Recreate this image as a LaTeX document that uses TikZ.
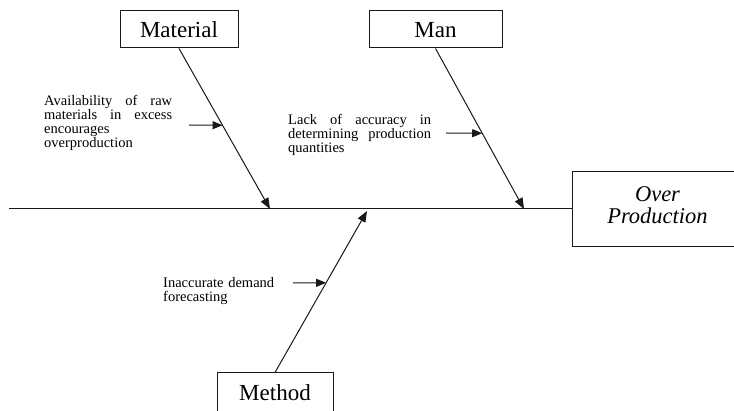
\documentclass[tikz,border=0pt]{standalone}
\usepackage{fontspec}
\setmainfont{Liberation Serif}
\usetikzlibrary{arrows.meta,calc}
% one line of a justified paragraph, spread to the given width
\newcommand\spreadline[2]{\leavevmode\hbox to #1{#2}}

\begin{document}
\begin{tikzpicture}[x=1pt,y=-1pt,
  ink/.style={draw=black!90, line width=1pt},
  titlebox/.style={ink, fill=white, inner sep=0pt,
    font=\fontsize{23}{25}\selectfont, text height=15.5pt, text depth=0pt},
  note/.style={inner sep=0pt, anchor=north west, align=left,
    font=\fontsize{14.5}{14}\selectfont},
  bone/.style={ink, -{Triangle[length=11pt,width=8.5pt]}},
  cue/.style={ink, -{Triangle[length=10pt,width=8pt]}},
]
\useasboundingbox (0,0) rectangle (734,411);

% cause categories and the effect
\node[titlebox, minimum width=118pt, minimum height=37pt] (mat) at (179,29.5) {Material};
\node[titlebox, minimum width=133pt, minimum height=37pt] (man) at (435.5,29.5) {Man};
\node[titlebox, minimum width=116pt, minimum height=39pt] (met) at (275,392.5) {Method};
\node[ink, inner sep=0pt, minimum width=173pt, minimum height=75pt] (op) at (658.5,209) {};
\node[inner sep=0pt, align=center, font=\itshape\fontsize{22.5}{22}\selectfont]
  (optext) at ([xshift=-1pt,yshift=4pt]op.center) {Over\\Production};

% spine
\coordinate (tail) at (9,209);
\draw[ink] (tail) -- (op.west);

% bones meeting the spine
\coordinate (jmat) at (270,209);
\coordinate (jman) at (524,209);
\coordinate (jmet) at (367,211);
\draw[bone] (mat.south) -- (jmat);
\draw[bone] (man.south) -- (jman);
\draw[bone] (met.north) -- (jmet);

% sub-causes
\node[note, text width=128pt] (nmat) at (44,95) {%
  \spreadline{128pt}{Availability\hfill of\hfill raw}\\
  \spreadline{128pt}{materials\hfill in\hfill excess}\\
  encourages\\
  overproduction};
\node[note, text width=143pt] (nman) at (288,114) {%
  \spreadline{143pt}{Lack\hfill of\hfill accuracy\hfill in}\\
  \spreadline{143pt}{determining\hfill production}\\
  quantities};
\node[note, text width=111pt] (nmet) at (163,277) {%
  \spreadline{111pt}{Inaccurate\hfill demand}\\
  forecasting};

% arrows pointing the sub-causes at their bones
\coordinate (cmat) at ($(mat.south)!0.4783!(jmat)$);
\coordinate (cman) at ($(man.south)!0.528!(jman)$);
\coordinate (cmet) at ($(met.north)!0.5556!(jmet)$);
\coordinate (smat) at (189,125);
\coordinate (sman) at (446,133);
\coordinate (smet) at (293,283);
\draw[cue] (smat) -- (cmat);
\draw[cue] (sman) -- (cman);
\draw[cue] (smet) -- (cmet);
\end{tikzpicture}
\end{document}
